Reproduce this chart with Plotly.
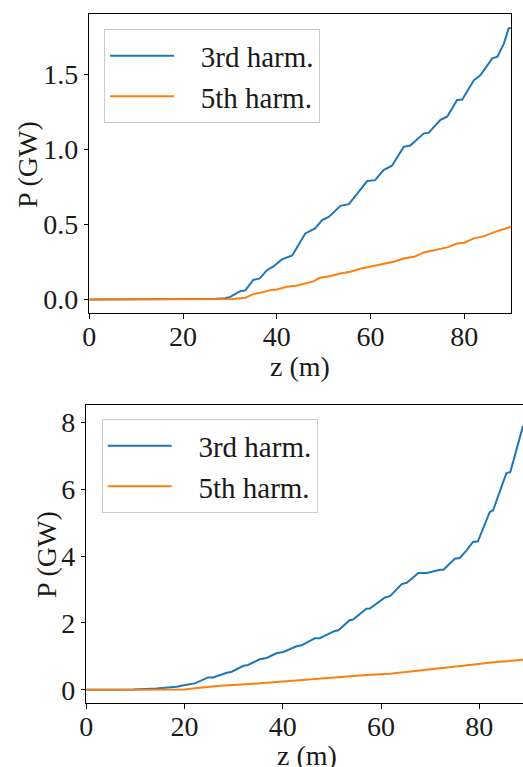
import plotly.graph_objects as go

# ---- top panel data ----
z3_top = [0, 10, 20, 25, 27, 29, 30.1, 32.2, 33.3, 35.0, 36.4, 37.9, 39.3, 41.1, 43.3, 46.1, 48.2, 49.7,
          51.1, 53.6, 55.4, 57.1, 59.3, 61.0, 62.8, 64.6, 67.1, 68.5, 71.4, 72.4, 74.9, 76.4, 78.5,
          79.6, 82.1, 83.5, 86.0, 87.1, 88.5, 89.5, 90]
p3_top = [0, 0, 0.001, 0.002, 0.004, 0.008, 0.017, 0.055, 0.06, 0.13, 0.14, 0.195, 0.22, 0.267, 0.293,
          0.44, 0.473, 0.529, 0.55, 0.624, 0.635, 0.702, 0.789, 0.795, 0.862, 0.891, 1.017, 1.026,
          1.107, 1.11, 1.195, 1.22, 1.33, 1.333, 1.462, 1.495, 1.607, 1.618, 1.707, 1.807, 1.81]
z5_top = [0, 10, 20, 28, 30.5, 33.3, 35.0, 37.2, 38.6, 40.0, 42.2, 44.4, 46.4, 47.8, 49.2, 51.3, 53.6,
          55.7, 57.8, 60.0, 62.1, 65.0, 67.1, 69.3, 71.4, 73.5, 76.4, 78.5, 80.0, 82.1, 84.3, 86.3,
          88.5, 90]
p5_top = [0, 0, 0, 0.001, 0.003, 0.011, 0.035, 0.049, 0.062, 0.066, 0.084, 0.093, 0.111, 0.12, 0.144,
          0.155, 0.173, 0.184, 0.204, 0.218, 0.233, 0.251, 0.273, 0.284, 0.313, 0.329, 0.347, 0.373,
          0.378, 0.407, 0.422, 0.447, 0.467, 0.484]

# ---- bottom panel data ----
z3_bot = [0, 5, 9.6, 14.3, 18.4, 20.1, 22.1, 24.8, 25.8, 28.6, 29.6, 31.9, 32.9, 35.3, 36.7, 38.7, 40.1,
          42.8, 43.8, 46.5, 47.5, 50.6, 51.3, 53.6, 54.3, 57.0, 57.7, 60.8, 61.8, 64.2, 65.2, 67.6,
          69.3, 72.0, 72.7, 75.0, 76.0, 77.4, 78.7, 79.7, 82.1, 82.8, 85.5, 86.3, 87.6, 88.8, 90]
p3_bot = [0, 0, 0.01, 0.04, 0.09, 0.14, 0.19, 0.37, 0.37, 0.51, 0.54, 0.71, 0.74, 0.91, 0.95, 1.09, 1.13,
          1.30, 1.33, 1.54, 1.54, 1.76, 1.78, 2.08, 2.10, 2.42, 2.43, 2.76, 2.80, 3.16, 3.20, 3.49,
          3.49, 3.59, 3.59, 3.92, 3.94, 4.17, 4.42, 4.44, 5.31, 5.37, 6.48, 6.51, 7.25, 7.85, 8.1]
z5_bot = [0, 10, 15, 20, 23.1, 27.2, 33.3, 36.7, 40.8, 43.5, 47.5, 50.9, 54.3, 57.0, 61.8, 65.2, 69.3,
          72.7, 76.0, 79.4, 82.8, 86.2, 88.8, 90]
p5_bot = [0, 0, 0.002, 0.01, 0.06, 0.12, 0.17, 0.21, 0.25, 0.28, 0.33, 0.36, 0.40, 0.44, 0.48, 0.53,
          0.59, 0.65, 0.70, 0.76, 0.82, 0.87, 0.89, 0.91]

series_names = ["3rd harm.", "5th harm."]
colors = ["#1f77b4", "#ff7f0e"]
x_ticks = [0, 20, 40, 60, 80]
y_ticks_top = [0.0, 0.5, 1.0, 1.5]
y_ticks_bot = [0, 2, 4, 6, 8]
x_title = "z (m)"
y_title = "P (GW)"

FONT = "Liberation Serif"
FS = 28
W, H = 523, 767
INK = "#1a1a1a"
GAP = "\u00a0\u00a0\u00a0"  # extra gap between legend line sample and label

fig = go.Figure()
fig.add_trace(go.Scatter(x=z3_top, y=p3_top, mode="lines", name=GAP + series_names[0],
                         line=dict(color=colors[0], width=2), xaxis="x", yaxis="y", legend="legend"))
fig.add_trace(go.Scatter(x=z5_top, y=p5_top, mode="lines", name=GAP + series_names[1],
                         line=dict(color=colors[1], width=2), xaxis="x", yaxis="y", legend="legend"))
fig.add_trace(go.Scatter(x=z3_bot, y=p3_bot, mode="lines", name=GAP + series_names[0],
                         line=dict(color=colors[0], width=2), xaxis="x2", yaxis="y2", legend="legend2"))
fig.add_trace(go.Scatter(x=z5_bot, y=p5_bot, mode="lines", name=GAP + series_names[1],
                         line=dict(color=colors[1], width=2), xaxis="x2", yaxis="y2", legend="legend2"))

axis_common = dict(showline=True, linecolor="black", linewidth=1, ticks="outside", ticklen=4.5,
                   tickwidth=1, tickcolor="black", showgrid=False, zeroline=False, automargin=False,
                   tickfont=dict(family=FONT, size=FS, color=INK))

def px_x(v):
    return v / W

def px_y(v):
    return 1 - v / H

legend_common = dict(font=dict(family=FONT, size=29, color=INK), bgcolor="rgba(255,255,255,0.8)",
                     bordercolor="#cccccc", borderwidth=1, itemwidth=64, xanchor="left", yanchor="top",
                     tracegroupgap=0)

title_font = dict(family=FONT, size=FS, color=INK)

def title_ann(text, cx, cy, angle=0):
    return dict(text=text, x=px_x(cx), y=px_y(cy), xref="paper", yref="paper", showarrow=False,
                xanchor="center", yanchor="middle", textangle=angle, font=title_font)

fig.update_layout(
    width=W, height=H, margin=dict(l=0, r=0, t=0, b=0, autoexpand=False),
    paper_bgcolor="white", plot_bgcolor="white",
    xaxis=dict(axis_common, domain=[px_x(89.3), px_x(511)], range=[0, 90], tickvals=x_ticks,
               mirror=True, anchor="y", ticklabelstandoff=-6),
    yaxis=dict(axis_common, domain=[px_y(313), px_y(14.3)], range=[-0.0905, 1.9005], tickvals=y_ticks_top,
               tickformat=".1f", mirror=True, anchor="x"),
    xaxis2=dict(axis_common, domain=[px_x(86.3), 1.0], range=[0, 88.88], tickvals=x_ticks,
                mirror=True, anchor="y2", ticklabelstandoff=-6),
    yaxis2=dict(axis_common, domain=[px_y(703.3), px_y(404.7)], range=[-0.405, 8.525], tickvals=y_ticks_bot,
                mirror=False, anchor="x2"),
    legend=dict(legend_common, x=px_x(104), y=px_y(29.3)),
    legend2=dict(legend_common, x=px_x(101.7), y=px_y(419.3)),
    annotations=[
        title_ann(x_title, 300, 366),
        title_ann(y_title, 28, 165, -90),
        title_ann(x_title, 307, 755),
        title_ann(y_title, 46, 555, -90),
    ],
)

fig.write_html("out.html", config={"displayModeBar": False},
               post_script="document.body.style.margin='0';document.body.style.overflow='hidden';")
